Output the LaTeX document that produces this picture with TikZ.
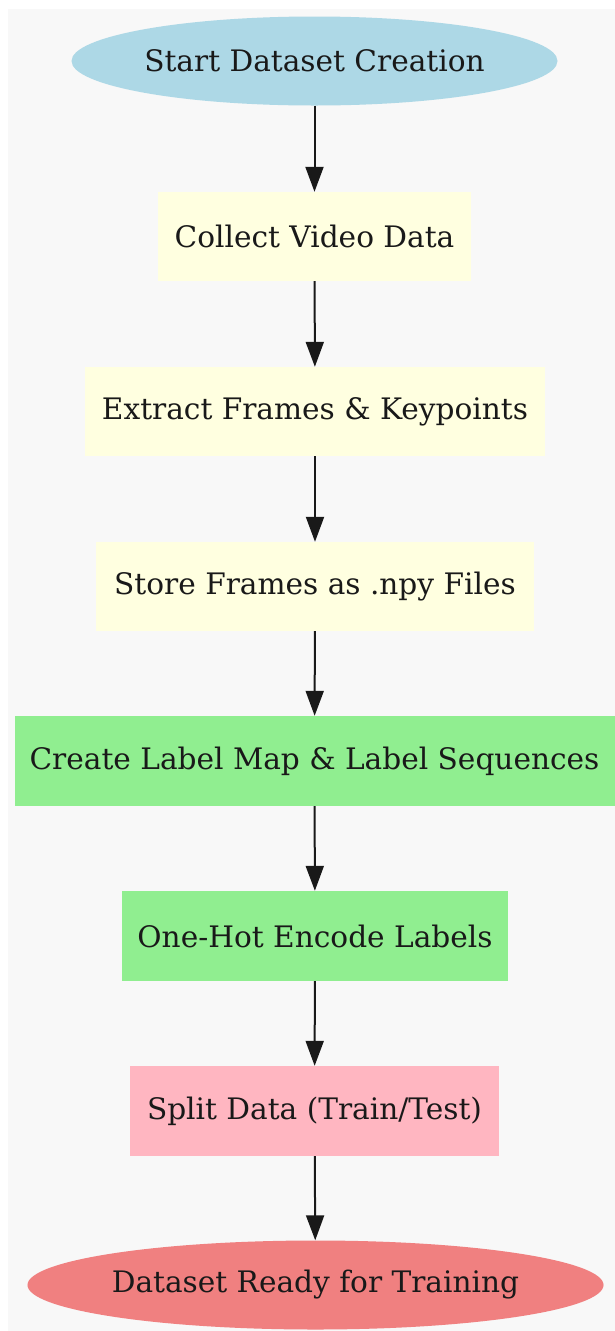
\documentclass[tikz,border=0pt]{standalone}
\usepackage{fontspec}
\setmainfont{DejaVu Serif}
\usetikzlibrary{shapes.geometric,arrows.meta}
\definecolor{canvas}{HTML}{F8F8F8}
\definecolor{startblue}{HTML}{ADD8E6}
\definecolor{stepyellow}{HTML}{FFFFE0}
\definecolor{stepgreen}{HTML}{90EE90}
\definecolor{steppink}{HTML}{FFB6C1}
\definecolor{endcoral}{HTML}{F08080}
\tikzset{
  terminal/.style={ellipse, inner sep=0pt, minimum height=89pt},
  stepbox/.style={rectangle, inner sep=0pt, minimum height=89pt},
  flow/.style={draw=black!90, line width=2pt, -{Triangle[length=25pt,width=18pt]}},
  every node/.style={font=\fontsize{29.6}{36}\selectfont, text=black!90}
}
\begin{document}
\begin{tikzpicture}[x=1pt,y=-1pt]
\useasboundingbox (0,0) rectangle (615,1331);
\fill[white] (0,0) rectangle (615,1331);
\fill[canvas] (8,9) rectangle (615,1331);

\node[terminal, fill=startblue, minimum width=486pt] (start) at (314.5,61) {Start Dataset Creation};
\node[stepbox, fill=stepyellow, minimum width=313pt] (collect) at (314.5,236.5) {Collect Video Data};
\node[stepbox, fill=stepyellow, minimum width=460pt] (extract) at (315,411.5) {Extract Frames \& Keypoints};
\node[stepbox, fill=stepyellow, minimum width=438pt] (store) at (315,586.5) {Store Frames as .npy Files};
\node[stepbox, fill=stepgreen, minimum width=600pt, minimum height=90pt] (labels) at (314.5,761) {Create Label Map \& Label Sequences};
\node[stepbox, fill=stepgreen, minimum width=386pt, minimum height=90pt] (onehot) at (315,936) {One-Hot Encode Labels};
\node[stepbox, fill=steppink, minimum width=369pt, minimum height=90pt] (split) at (314.5,1111) {Split Data (Train/Test)};
\node[terminal, fill=endcoral, minimum width=571pt] (ready) at (315.5,1285) {Dataset Ready for Training};

\draw[flow] (start) -- (collect);
\draw[flow] (collect) -- (extract);
\draw[flow] (extract) -- (store);
\draw[flow] (store) -- (labels);
\draw[flow] (labels) -- (onehot);
\draw[flow] (onehot) -- (split);
\draw[flow] (split) -- (ready);
\end{tikzpicture}
\end{document}
